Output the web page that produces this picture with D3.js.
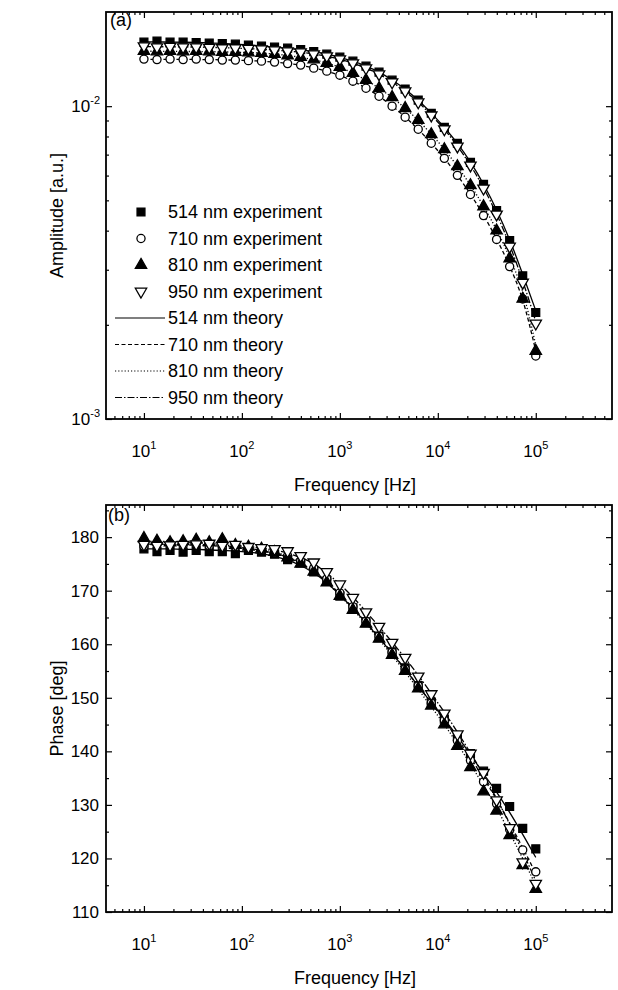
<!DOCTYPE html>
<html><head><meta charset="utf-8">
<script src="https://cdn.jsdelivr.net/npm/d3@7"></script>
<style>
body{margin:0;background:#fff}
text{font-family:"Liberation Sans",Arial,sans-serif;fill:#000}
</style>
</head><body>
<svg id="c" width="618" height="990"></svg>
<script>
// ---------- data ----------
const freq = [10,13.59,18.48,25.12,34.15,46.42,63.10,85.77,116.6,158.5,215.4,292.9,398.1,541.2,735.6,
  1000,1359,1848,2512,3415,4642,6310,8577,11659,15849,21544,29286,39811,54117,73564,100000];

const amp514 = [0.01603,0.01615,0.01603,0.01603,0.01597,0.01591,0.01585,0.01579,0.01568,0.01556,0.01545,0.01534,0.01517,0.01495,0.01467,0.01435,0.01393,0.01343,0.01285,0.01211,0.01133,0.01045,0.00949,0.00856,0.00761,0.00661,0.00562,0.00464,0.00372,0.00287,0.00219];
const amp710 = [0.01414,0.01409,0.01414,0.01409,0.01414,0.01409,0.01404,0.01404,0.01398,0.01393,0.01383,0.01368,0.01353,0.01323,0.01294,0.01256,0.01202,0.01141,0.01076,0.01000,0.00922,0.00844,0.00761,0.00681,0.00601,0.00522,0.00447,0.00375,0.00307,0.00242,0.00159];
const amp810 = [0.01500,0.01495,0.01500,0.01495,0.01500,0.01495,0.01489,0.01489,0.01484,0.01478,0.01467,0.01451,0.01435,0.01409,0.01373,0.01333,0.01275,0.01211,0.01141,0.01068,0.00985,0.00902,0.00813,0.00728,0.00642,0.00558,0.00478,0.00400,0.00326,0.00242,0.00165];
const amp950 = [0.01556,0.01545,0.01550,0.01545,0.01545,0.01539,0.01534,0.01534,0.01528,0.01522,0.01511,0.01500,0.01489,0.01467,0.01446,0.01414,0.01373,0.01323,0.01266,0.01193,0.01117,0.01030,0.00935,0.00844,0.00744,0.00647,0.00546,0.00451,0.00356,0.00273,0.00202];

const ampTh514 = [0.01605,0.01604,0.01603,0.01601,0.01598,0.01593,0.01587,0.01579,0.01569,0.01557,0.01544,0.01530,0.01514,0.01494,0.01467,0.01433,0.01392,0.01343,0.01285,0.01213,0.01133,0.01045,0.00950,0.00855,0.00760,0.00662,0.00563,0.00466,0.00374,0.00290,0.00222];
const ampTh710 = [0.01412,0.01412,0.01411,0.01411,0.01410,0.01409,0.01406,0.01403,0.01399,0.01393,0.01383,0.01369,0.01351,0.01324,0.01292,0.01253,0.01202,0.01142,0.01076,0.01001,0.00923,0.00843,0.00761,0.00681,0.00601,0.00523,0.00448,0.00376,0.00308,0.00240,0.00165];
const ampTh810 = [0.01498,0.01498,0.01497,0.01496,0.01495,0.01494,0.01491,0.01488,0.01484,0.01478,0.01468,0.01452,0.01433,0.01408,0.01374,0.01331,0.01275,0.01211,0.01141,0.01066,0.00985,0.00900,0.00814,0.00728,0.00642,0.00559,0.00479,0.00402,0.00328,0.00255,0.00172];
const ampTh950 = [0.01550,0.01549,0.01548,0.01547,0.01545,0.01542,0.01538,0.01533,0.01527,0.01520,0.01511,0.01500,0.01487,0.01468,0.01444,0.01412,0.01372,0.01323,0.01265,0.01193,0.01115,0.01030,0.00936,0.00843,0.00745,0.00647,0.00548,0.00452,0.00360,0.00276,0.00205];

const ph514 = [177.8,177.3,177.5,177.2,177.5,177.3,177.3,176.9,177.5,177.2,176.8,175.8,175.2,173.5,171.8,169.0,166.8,164.2,161.5,158.6,155.6,152.3,149.2,146.0,142.8,139.6,136.3,133.1,129.7,125.6,121.8];
const ph710 = [178.3,178.6,178.9,178.5,178.7,178.4,178.3,178.2,178.0,177.7,177.2,176.5,175.5,174.2,172.2,169.6,167.0,164.3,161.5,158.5,155.4,152.2,149.0,145.8,142.0,138.3,134.3,130.2,125.4,121.6,117.5];
const ph810 = [179.8,179.3,179.0,179.2,179.5,179.0,179.6,178.5,178.2,177.8,177.2,176.2,175.0,173.5,171.5,169.0,166.4,163.8,161.0,158.0,155.0,151.7,148.5,145.0,141.0,137.0,132.5,128.9,124.3,118.7,114.3];
const ph950 = [178.6,178.4,178.5,178.6,178.7,178.8,178.4,178.6,178.2,178.0,177.8,177.4,176.5,175.3,173.5,171.2,168.7,166.0,163.3,160.3,157.5,154.0,150.7,147.1,143.2,139.6,136.0,130.9,125.7,119.3,115.3];

const phTh514 = [177.8,177.8,177.8,177.7,177.7,177.6,177.5,177.4,177.2,176.9,176.4,175.7,174.7,173.3,171.5,169.2,166.7,164.0,161.2,158.3,155.3,152.2,149.1,146.0,142.8,139.4,135.8,132.4,128.6,124.5,120.2];
const phTh710 = [178.6,178.6,178.6,178.5,178.5,178.4,178.3,178.1,177.9,177.5,177.0,176.2,175.1,173.6,171.7,169.4,166.8,164.1,161.3,158.4,155.3,152.2,149.0,145.8,142.4,138.8,135.0,131.0,126.6,122.0,117.2];
const phTh810 = [179.2,179.2,179.2,179.1,179.0,178.9,178.8,178.6,178.3,177.9,177.3,176.4,175.2,173.6,171.5,169.1,166.5,163.8,160.9,157.9,154.8,151.6,148.3,145.0,141.4,137.6,133.6,129.4,124.8,120.0,115.0];
const phTh950 = [178.7,178.7,178.7,178.7,178.6,178.6,178.5,178.4,178.2,178.0,177.6,177.0,176.2,175.0,173.3,171.2,168.8,166.1,163.3,160.4,157.4,154.2,150.8,147.3,143.6,139.7,135.6,131.2,126.4,121.2,115.8];

const legendLabels = ["514 nm experiment","710 nm experiment","810 nm experiment","950 nm experiment",
  "514 nm theory","710 nm theory","810 nm theory","950 nm theory"];
const xTickExps = [1,2,3,4,5];
const ampTickExps = [-3,-2];
const phaseTicks = [110,120,130,140,150,160,170,180];

// ---------- layout ----------
const svg = d3.select("#c");
const L = 106, R = 612;
const top1 = 12, bot1 = 419, top2 = 505, bot2 = 912;

const x = d3.scaleLog().domain([4.1, 6e5]).range([L, R]);
const yA = d3.scaleLog().domain([1e-3, 2e-2]).range([bot1, top1]);
const yP = d3.scaleLinear().domain([110, 186]).range([bot2, top2]);

const markers = [
  {type: d3.symbolSquare, size: 62, fill: "#000", rot: 0},
  {type: d3.symbolCircle, size: 52, fill: "#fff", rot: 0},
  {type: d3.symbolTriangle, size: 56, fill: "#000", rot: 0},
  {type: d3.symbolTriangle, size: 56, fill: "#fff", rot: 180}
];
const dashes = [null, "4,2.5", "1.2,2", "7,2,1.5,2"];

function xMinors() {
  const m = [];
  for (let e = 0; e <= 5; e++) for (let k = 2; k <= 9; k++) {
    const v = k * Math.pow(10, e);
    if (v > 4.1 && v < 6e5) m.push(v);
  }
  return m;
}

function frame(yScale, top, bot, yMaj, yMin) {
  const g = svg.append("g");
  const majX = xTickExps.map(e => Math.pow(10, e));
  const add = (axis, tx, ty) => g.append("g").attr("transform", `translate(${tx},${ty})`).call(axis);
  add(d3.axisBottom(x).tickValues(majX).tickSize(-6).tickFormat("").tickSizeOuter(0), 0, bot);
  add(d3.axisBottom(x).tickValues(xMinors()).tickSize(-3).tickFormat("").tickSizeOuter(0), 0, bot);
  add(d3.axisTop(x).tickValues(majX).tickSize(-6).tickFormat("").tickSizeOuter(0), 0, top);
  add(d3.axisTop(x).tickValues(xMinors()).tickSize(-3).tickFormat("").tickSizeOuter(0), 0, top);
  add(d3.axisLeft(yScale).tickValues(yMaj).tickSize(-6).tickFormat("").tickSizeOuter(0), L, 0);
  add(d3.axisLeft(yScale).tickValues(yMin).tickSize(-3).tickFormat("").tickSizeOuter(0), L, 0);
  add(d3.axisRight(yScale).tickValues(yMaj).tickSize(-6).tickFormat("").tickSizeOuter(0), R, 0);
  add(d3.axisRight(yScale).tickValues(yMin).tickSize(-3).tickFormat("").tickSizeOuter(0), R, 0);
  g.selectAll(".domain").remove();
  g.selectAll("line").attr("stroke", "#000").attr("stroke-width", 1.2);
  g.append("rect").attr("x", L).attr("y", top).attr("width", R - L).attr("height", bot - top)
    .attr("fill", "none").attr("stroke", "#000").attr("stroke-width", 1.8);
  xTickExps.forEach(e => {
    const t = svg.append("text").attr("x", x(Math.pow(10, e))).attr("y", bot + 38)
      .attr("text-anchor", "middle").style("font-size", "17px");
    t.append("tspan").text("10");
    t.append("tspan").attr("dy", -8).style("font-size", "11px").text(e);
  });
  svg.append("text").attr("x", (L + R) / 2 - 4).attr("y", bot + 72).attr("text-anchor", "middle")
    .style("font-size", "18px").text("Frequency [Hz]");
}

// ---------- panel (a) ----------
const ampMinors = [];
[0.001, 0.01].forEach(b => { for (let k = 2; k <= 9; k++) { const v = k * b; if (v < 0.02) ampMinors.push(v); } });
frame(yA, top1, bot1, ampTickExps.map(e => Math.pow(10, e)), ampMinors);
ampTickExps.forEach(e => {
  const t = svg.append("text").attr("x", L - 6).attr("y", yA(Math.pow(10, e)) + 6)
    .attr("text-anchor", "end").style("font-size", "17px");
  t.append("tspan").text("10");
  t.append("tspan").attr("dy", -8).style("font-size", "11px").text(e);
});
svg.append("text").attr("transform", `translate(63,${(top1 + bot1) / 2}) rotate(-90)`)
  .attr("text-anchor", "middle").style("font-size", "18px").text("Amplitude [a.u.]");
svg.append("text").attr("x", L + 4).attr("y", top1 + 14).style("font-size", "18px").text("(a)");

// ---------- panel (b) ----------
const phMinors = d3.range(115, 186, 10);
frame(yP, top2, bot2, phaseTicks, phMinors);
phaseTicks.forEach(v => {
  svg.append("text").attr("x", L - 7).attr("y", yP(v) + 6).attr("text-anchor", "end")
    .style("font-size", "17px").text(v);
});
svg.append("text").attr("transform", `translate(63,${(top2 + bot2) / 2}) rotate(-90)`)
  .attr("text-anchor", "middle").style("font-size", "18px").text("Phase [deg]");
svg.append("text").attr("x", L + 2).attr("y", top2 + 16).style("font-size", "18px").text("(b)");

// ---------- series ----------
function drawSeries(yScale, expSets, thSets) {
  const g = svg.append("g");
  thSets.forEach((arr, i) => {
    const line = d3.line().x((d, j) => x(freq[j])).y(d => yScale(d)).curve(d3.curveMonotoneX);
    g.append("path").attr("d", line(arr)).attr("fill", "none").attr("stroke", "#000")
      .attr("stroke-width", 1.3).attr("stroke-dasharray", dashes[i]);
  });
  expSets.forEach((arr, i) => {
    const m = markers[i];
    const sym = d3.symbol().type(m.type).size(m.size);
    g.selectAll(null).data(arr).enter().append("path")
      .attr("d", sym)
      .attr("transform", (d, j) => `translate(${x(freq[j])},${yScale(d)}) rotate(${m.rot})`)
      .attr("fill", m.fill).attr("stroke", "#000").attr("stroke-width", 1.3);
  });
}
drawSeries(yA, [amp514, amp710, amp810, amp950], [ampTh514, ampTh710, ampTh810, ampTh950]);
drawSeries(yP, [ph514, ph710, ph810, ph950], [phTh514, phTh710, phTh810, phTh950]);

// ---------- legend ----------
const lg = svg.append("g");
legendLabels.forEach((lab, i) => {
  const yy = 212 + i * 26.5;
  if (i < 4) {
    const m = markers[i];
    lg.append("path").attr("d", d3.symbol().type(m.type).size(m.size)())
      .attr("transform", `translate(141,${yy}) rotate(${m.rot})`)
      .attr("fill", m.fill).attr("stroke", "#000").attr("stroke-width", 1.3);
  } else {
    lg.append("line").attr("x1", 115).attr("x2", 165).attr("y1", yy).attr("y2", yy)
      .attr("stroke", "#000").attr("stroke-width", 1.2).attr("stroke-dasharray", dashes[i - 4]);
  }
  lg.append("text").attr("x", 168).attr("y", yy + 6).style("font-size", "18px").text(lab);
});
</script>
</body></html>
